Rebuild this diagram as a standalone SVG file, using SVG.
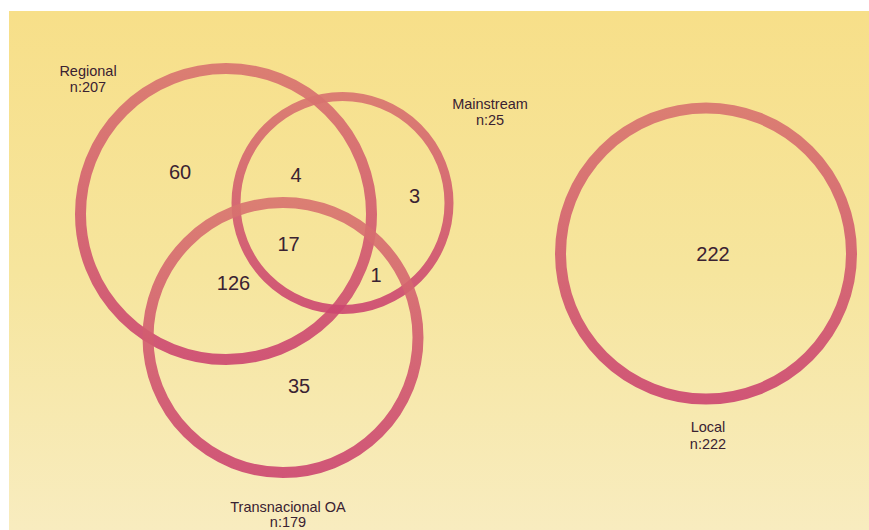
<svg xmlns="http://www.w3.org/2000/svg" width="869" height="530" viewBox="0 0 869 530">
  <defs>
    <linearGradient id="bg" x1="0" y1="0" x2="0" y2="1">
      <stop offset="0" stop-color="#f7df89"/>
      <stop offset="0.5" stop-color="#f6e59d"/>
      <stop offset="1" stop-color="#f8ecbf"/>
    </linearGradient>
    <linearGradient id="ring" x1="0" y1="0" x2="0" y2="1">
      <stop offset="0" stop-color="#d8736f"/>
      <stop offset="1" stop-color="#cc4670"/>
    </linearGradient>
  </defs>
  <style>
    .ring { fill: none; stroke: url(#ring); stroke-opacity: 0.9; }
    .lbl { font-family: "Liberation Sans", Arial, sans-serif; font-size: 14.5px; fill: #3a2232; text-anchor: middle; }
    .num { font-family: "Liberation Sans", Arial, sans-serif; font-size: 20px; fill: #3a2232; text-anchor: middle; }
  </style>
  <rect x="9" y="11" width="860" height="519" fill="url(#bg)"/>
  <g id="regional">
    <circle class="ring" cx="226" cy="214" r="145.5" stroke-width="11"/>
    <text class="lbl" x="88" y="76">Regional</text>
    <text class="lbl" x="88" y="91.5">n:207</text>
  </g>
  <g id="mainstream">
    <circle class="ring" cx="342.5" cy="203" r="106.5" stroke-width="9"/>
    <text class="lbl" x="490" y="109">Mainstream</text>
    <text class="lbl" x="490" y="125">n:25</text>
  </g>
  <g id="transnacional">
    <circle class="ring" cx="283" cy="337.5" r="135" stroke-width="11"/>
    <text class="lbl" x="288" y="512">Transnacional OA</text>
    <text class="lbl" x="288" y="526.5">n:179</text>
  </g>
  <g id="local">
    <circle class="ring" cx="706" cy="253.5" r="145.5" stroke-width="11"/>
    <text class="lbl" x="708" y="432">Local</text>
    <text class="lbl" x="708" y="449">n:222</text>
    <text class="num" x="713" y="261">222</text>
  </g>
  <g id="counts">
    <text class="num" x="180" y="179">60</text>
    <text class="num" x="296" y="182">4</text>
    <text class="num" x="414.5" y="203">3</text>
    <text class="num" x="288.5" y="251">17</text>
    <text class="num" x="233.5" y="290">126</text>
    <text class="num" x="376" y="282">1</text>
    <text class="num" x="299" y="393">35</text>
  </g>
  <g id="connectors"/>
</svg>
